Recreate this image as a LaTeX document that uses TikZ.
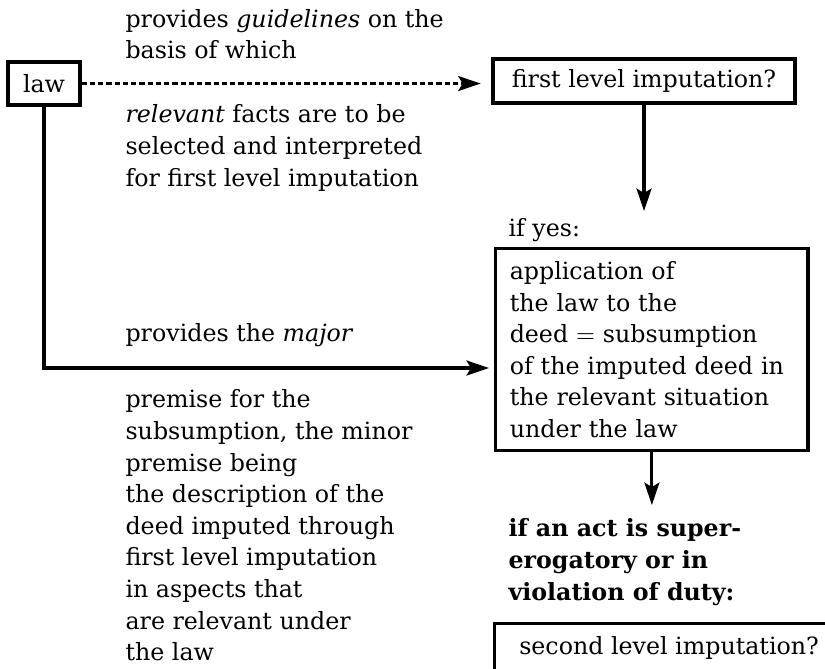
\documentclass[tikz,border=0pt]{standalone}
\usepackage{fontspec}
\setmainfont{DejaVu Serif}
\usetikzlibrary{arrows.meta}

\begin{document}
\begin{tikzpicture}[x=1.0mm, y=1.0mm,
	box/.style={draw, line width=1.3pt, inner sep=0pt, font=\fontsize{9}{12}\selectfont},
	note/.style={inner sep=0pt, align=left, anchor=west, font=\fontsize{9}{12}\selectfont},
	arr/.style={line width=1.2pt, -{Stealth[length=3mm, width=2mm, inset=0.6mm]}}]
	\useasboundingbox (0,0) rectangle (110,89.07);
	\clip (0,0) rectangle (110,89.07);

	\node [box, minimum width=9.6mm, minimum height=5.73mm] (law) at (5.87,77.93) {law};
	\node [box, minimum width=40.3mm, minimum height=5.87mm] (first) at (85.87,78.27) {first level imputation?};
	\node [box, anchor=north west, text width=37.9mm, inner xsep=1.87mm, minimum height=26.9mm, align=left] (app) at (65.87,56.13)
		{application of\\the law to the\\deed $=$ subsumption\\of the imputed deed in\\the relevant situation\\under the law};
	\node [box, anchor=north west, minimum width=46.5mm, minimum height=6.4mm] (second) at (65.73,6.13) {second level imputation?};

	\node [note] (guide) at (16.67,84.53) {provides \textit{guidelines} on the\\basis of which};
	\node [note] (facts) at (16.67,69.33) {\textit{relevant} facts are to be\\selected and interpreted\\for first level imputation};
	\node [note] (major) at (16.67,44.4) {provides the \textit{major}};
	\node [note] (minor) at (16.67,19.0) {premise for the\\subsumption, the minor\\premise being\\the description of the\\deed imputed through\\first level imputation\\in aspects that\\are relevant under\\the law};
	\node [note] (yes) at (67.73,58.4) {if yes:};
	\node [note, font=\fontsize{9}{12}\selectfont\bfseries] (duty) at (67.73,14.13) {if an act is super-\\erogatory or in\\violation of duty:};

	\coordinate (yestip) at (85.73,60.93);
	\coordinate (dutytip) at (86.7,21.73);
	\coordinate (majortip) at (65.2,40);

	\draw [arr, dash pattern=on 0.7mm off 0.4mm, line width=1pt, shorten >=1.4mm] (law.east) -- (law.east -| first.west);
	\draw [arr] (first.south) -- (first.south |- yestip);
	\draw [arr] (app.south) -- (app.south |- dutytip);
	\draw [arr] (law.south) |- (majortip);
\end{tikzpicture}
\end{document}
